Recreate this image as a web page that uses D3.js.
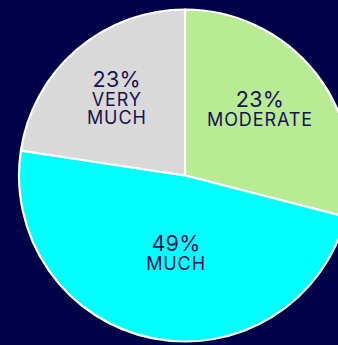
<!DOCTYPE html>
<html><head><meta charset="utf-8">
<script src="https://cdn.jsdelivr.net/npm/d3@7"></script>
<style>html,body{margin:0;padding:0;background:#03004a;overflow:hidden}</style>
</head><body>
<svg id="c" width="338" height="345"></svg>
<script>
const categories = ["MODERATE", "MUCH", "VERY MUCH"];
const values = [29, 48.4, 22.6];
const pctLabels = ["23%", "49%", "23%"];
const colors = ["#b9eb95", "#00ffff", "#d9d9d9"];

const W = 338, H = 345, cx = 185, cy = 175.5, R = 166;
const svg = d3.select("#c");
svg.append("rect").attr("width", W).attr("height", H).attr("fill", "#03004a");
const g = svg.append("g").attr("transform", `translate(${cx},${cy})`);
const pie = d3.pie().sort(null).value(d => d)(values);
const arc = d3.arc().innerRadius(0).outerRadius(R);
const color = d3.scaleOrdinal().domain(categories).range(colors);

g.selectAll("path").data(pie).join("path")
  .attr("d", arc)
  .attr("fill", (d, i) => color(categories[i]))
  .attr("stroke", "#ffffff").attr("stroke-width", 2.2).attr("stroke-linejoin", "round");

const labelArc = d3.arc().innerRadius(100).outerRadius(100);
const nudges = [[-4, -7], [11, -22.5], [-3, -12.7]];
const lab = g.selectAll("g.lab").data(pie).join("g").attr("class", "lab")
  .attr("transform", (d, i) => {
    const c = labelArc.centroid(d);
    return `translate(${c[0] + nudges[i][0]},${c[1] + nudges[i][1]})`;
  });
lab.each(function(d, i) {
  const t = d3.select(this).append("text")
    .attr("text-anchor", "middle").attr("fill", "#16134f")
    .attr("font-family", "Inter, 'DejaVu Sans', sans-serif");
  t.append("tspan").attr("x", 0).attr("y", 0).attr("font-size", 21.5).attr("letter-spacing", 0.3).text(pctLabels[i]);
  const words = categories[i] === "VERY MUCH" ? ["VERY", "MUCH"] : [categories[i]];
  words.forEach((w, k) => {
    t.append("tspan").attr("x", 0).attr("y", 19 + 18 * k).attr("font-size", 18).attr("letter-spacing", 0.9).text(w);
  });
});
</script>
</body></html>
